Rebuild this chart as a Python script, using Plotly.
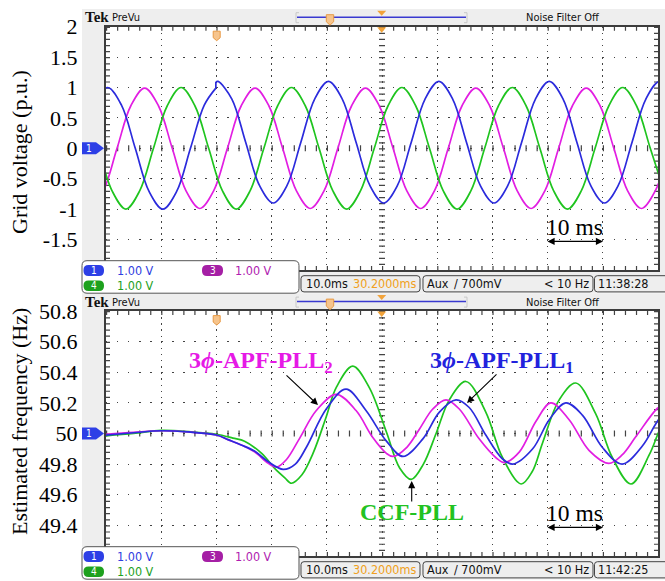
import plotly.graph_objects as go

W, H = 665, 581

# ---------------- data ----------------
# Top panel: three-phase grid voltage (p.u.) vs time (ms), 10 ms/div
t_ch3 = [-3, -0.5, 2, 4.5, 7, 9.5, 12, 14.5, 17, 19.5, 22, 24.5, 27, 29.5, 32, 34.5, 37, 39.5,
         42, 44.5, 47, 49.5, 52, 54.5, 57, 59.5, 62, 64.5, 67, 69.5, 72, 74.5, 77, 79.5, 82,
         84.5, 87, 89.5, 92, 94.5, 97, 99.5, 102]
v_ch3 = [-0.99, -0.7, 0, 0.7, 0.99, 0.7, 0, -0.7, -0.99, -0.7, 0, 0.7, 0.99, 0.7, 0, -0.7,
         -0.99, -0.7, 0, 0.7, 0.99, 0.7, 0, -0.7, -0.99, -0.7, 0, 0.7, 0.99, 0.7, 0, -0.7,
         -0.99, -0.7, 0, 0.7, 0.99, 0.7, 0, -0.7, -0.99, -0.7, 0]

t_ch4 = [-3.9, -1.4, 1.1, 3.6, 6.1, 8.6, 11.1, 13.6, 16.1, 18.6, 21.1, 23.6, 26.1, 28.6, 31.1,
         33.6, 36.1, 38.6, 41.1, 43.6, 46.1, 48.6, 51.1, 53.6, 56.1, 58.6, 61.1, 63.6, 66.1,
         68.6, 71.1, 73.6, 76.1, 78.6, 81.1, 83.6, 86.1, 88.6, 91.1, 93.6, 96.1, 98.6, 101.1]
v_ch4 = [0.7, 0, -0.7, -1, -0.7, 0, 0.7, 1, 0.7, 0, -0.7, -1, -0.7, 0, 0.7, 1,
         0.7, 0, -0.7, -1, -0.7, 0, 0.7, 1, 0.7, 0, -0.7, -1, -0.7, 0, 0.7, 1,
         0.7, 0, -0.7, -1, -0.7, 0, 0.7, 1, 0.7, 0, -0.7]

t_ch1_pre = [-4.7, -2.2, 0.3, 2.8, 5.3, 7.8, 10.3, 12.8, 15.3, 17.8, 19.9]
v_ch1_pre = [0, 0.71, 1, 0.71, 0, -0.71, -1, -0.71, 0, 0.71, 0.99]
t_ch1_post = [19.9, 20.3, 22.8, 25.3, 27.8, 30.3, 32.8, 35.3, 37.8, 40.3, 42.8, 45.3, 47.8,
              50.3, 52.8, 55.3, 57.8, 60.3, 62.8, 65.3, 67.8, 70.3, 72.8, 75.3, 77.8, 80.3,
              82.8, 85.3, 87.8, 90.3, 92.8, 95.3, 97.8, 100.3, 102.8]
v_ch1_post = [1.09, 1.1, 0.81, 0.1, -0.61, -0.9, -0.61, 0.1, 0.81, 1.1, 0.81, 0.1, -0.61,
              -0.9, -0.61, 0.1, 0.81, 1.1, 0.81, 0.1, -0.61, -0.9, -0.61, 0.1, 0.81, 1.1,
              0.81, 0.1, -0.61, -0.9, -0.61, 0.1, 0.81, 1.1, 0.81]

# Bottom panel: estimated frequency (Hz) vs time (ms)
t_pll2 = [0, 5, 10, 15, 20, 22.1, 24.5, 26.9, 29.4, 30.9, 32.7, 35.1, 38.1, 41.7, 45.3, 48.3,
          50.8, 52.0, 54.5, 56.8, 59.2, 61.6, 64.0, 67.6, 70.7, 72.2, 74.9, 77.9, 80.6, 83.9,
          87.5, 91.1, 93.5, 96.0, 99.9, 101.5]
f_pll2 = [49.995, 50.008, 50.018, 50.01, 49.99, 49.96, 49.925, 49.88, 49.805, 49.78, 49.83,
          49.97, 50.15, 50.256, 50.15, 49.975, 49.87, 49.85, 49.91, 50.03, 50.16, 50.22, 50.16,
          49.965, 49.84, 49.81, 49.88, 50.08, 50.2, 50.09, 49.89, 49.805, 49.86, 49.98,
          50.165, 50.2]

t_pll1 = [0, 5, 10, 15, 20, 22.1, 24.5, 26.9, 29.4, 32.1, 34.3, 36.3, 39.9, 43.5, 47.1, 50.8,
          53.8, 57.4, 60.4, 63.4, 65.8, 68.8, 71.8, 73.7, 77.3, 80.3, 83.3, 86.3, 89.9, 93.5,
          97.2, 99.9, 102]
f_pll1 = [49.99, 50.005, 50.018, 50.01, 49.99, 49.96, 49.925, 49.885, 49.815, 49.765, 49.8,
          49.91, 50.16, 50.29, 50.15, 49.95, 49.85, 49.965, 50.14, 50.22, 50.17, 49.99, 49.835,
          49.80, 49.9, 50.09, 50.2, 50.12, 49.91, 49.80, 49.92, 50.08, 50.17]

t_ccf = [0, 5, 10, 15, 20, 23, 25.1, 28.2, 30.6, 32.4, 33.6, 35.5, 37.5, 39.9, 41.7, 44.7,
         47.7, 50.8, 53.2, 55.3, 57.5, 59.8, 62.2, 65.2, 68.8, 71.8, 75.2, 77.2, 79.1, 82.1,
         85.1, 88.7, 91.7, 95.1, 98.4, 99.9, 102]
f_ccf = [49.985, 50.0, 50.02, 50.012, 49.995, 49.97, 49.95, 49.87, 49.77, 49.71, 49.675,
         49.73, 49.87, 50.11, 50.3, 50.44, 50.3, 50.01, 49.775, 49.70, 49.8, 50.0, 50.22,
         50.34, 50.14, 49.845, 49.67, 49.75, 49.94, 50.22, 50.33, 50.13, 49.845, 49.67,
         49.86, 49.99, 50.18]

v_tickvals = [-1.5, -1, -0.5, 0, 0.5, 1, 1.5, 2]
v_ticktext = ["-1.5", "-1", "-0.5", "0", "0.5", "1", "1.5", "2"]
f_tickvals = [49.4, 49.6, 49.8, 50.0, 50.2, 50.4, 50.6, 50.8]
f_ticktext = ["49.4", "49.6", "49.8", "50", "50.2", "50.4", "50.6", "50.8"]
t_gridvals = [10, 20, 30, 40, 50, 60, 70, 80, 90]

# ---------------- styling ----------------
BLUE, MAG, GRN = "#2b2bdc", "#e21ee2", "#1fc41f"
SERIF = "Liberation Serif, Times New Roman, serif"
NARROW = "Liberation Sans Narrow, Arial Narrow, DejaVu Sans Condensed, Liberation Sans, sans-serif"
GX0, GX1 = 106.0, 658.0
PANELS = [(26.7, 269.9), (311.1, 555.9)]


def X(p):
    return p / W


def Y(p):
    return 1 - p / H


shapes, anns = [], []


def rect(x0, y0, x1, y1, fill, lc=None, lw=0, layer="above"):
    shapes.append(dict(type="rect", xref="paper", yref="paper", x0=X(x0), x1=X(x1),
                       y0=Y(y1), y1=Y(y0), fillcolor=fill,
                       line=dict(color=lc or fill, width=lw), layer=layer))


def seg(x0, y0, x1, y1, color, w, dash="solid", layer="above"):
    shapes.append(dict(type="line", xref="paper", yref="paper", x0=X(x0), y0=Y(y0),
                       x1=X(x1), y1=Y(y1), line=dict(color=color, width=w, dash=dash),
                       layer=layer))


def poly(pts, fill, lc=None, lw=0, layer="above"):
    d = "M " + " L ".join(f"{X(a):.5f},{Y(b):.5f}" for a, b in pts) + " Z"
    shapes.append(dict(type="path", xref="paper", yref="paper", path=d, fillcolor=fill,
                       line=dict(color=lc or fill, width=lw), layer=layer))


def rrect(x0, y0, x1, y1, r, fill, lc, lw, layer="above"):
    P = lambda a, b: f"{X(a):.5f},{Y(b):.5f}"
    d = (f"M {P(x0 + r, y0)} L {P(x1 - r, y0)} Q {P(x1, y0)} {P(x1, y0 + r)} "
         f"L {P(x1, y1 - r)} Q {P(x1, y1)} {P(x1 - r, y1)} L {P(x0 + r, y1)} "
         f"Q {P(x0, y1)} {P(x0, y1 - r)} L {P(x0, y0 + r)} Q {P(x0, y0)} {P(x0 + r, y0)} Z")
    shapes.append(dict(type="path", xref="paper", yref="paper", path=d, fillcolor=fill,
                       line=dict(color=lc, width=lw), layer=layer))


def text(x, y, s, size, color="#000", family=SERIF, xanchor="center", angle=0):
    anns.append(dict(x=X(x), y=Y(y), xref="paper", yref="paper", text=s, showarrow=False,
                     font=dict(size=size, color=color, family=family), xanchor=xanchor,
                     yanchor="middle", textangle=angle))


def arrow(hx, hy, tx, ty, both=False, w=1.1):
    anns.append(dict(x=X(hx), y=Y(hy), xref="paper", yref="paper", text="", showarrow=True,
                     ax=tx - hx, ay=ty - hy, axref="pixel", ayref="pixel", arrowhead=2,
                     arrowsize=1.3, arrowwidth=w, arrowcolor="#000",
                     arrowside="end+start" if both else "end", startarrowhead=2,
                     startarrowsize=1.3))


ORANGE = "#f2a33a"
for i, (gy0, gy1) in enumerate(PANELS):
    cy = (gy0 + gy1) / 2
    cx = (GX0 + GX1) / 2
    dxm = (GX1 - GX0) / 50
    dym = (gy1 - gy0) / 40
    # screen background + white graticule area
    rect(82, gy0 - 17.7, 665, gy1 + 23.5, "#eeeeee", layer="below")
    rect(GX0, gy0, GX1, gy1, "#ffffff", layer="below")
    # graticule tick rows
    dh = f"1.2px,{dxm - 1.2:.2f}px"
    dv = f"1.2px,{dym - 1.2:.2f}px"
    seg(GX0, gy0 + 2, GX1, gy0 + 2, "#444", 4, dh, "below")
    seg(GX0, gy1 - 2, GX1, gy1 - 2, "#444", 4, dh, "below")
    seg(GX0 + 2, gy0, GX0 + 2, gy1, "#444", 4, dv, "below")
    seg(GX1 - 2, gy0, GX1 - 2, gy1, "#444", 4, dv, "below")
    seg(GX0, cy, GX1, cy, "#444", 6, dh, "below")
    seg(cx, gy0, cx, gy1, "#444", 6, dv, "below")
    # header
    text(83, gy0 - 9.5, "<b>Tek</b>", 15, "#111", SERIF, "left")
    text(110, gy0 - 9, "PreVu", 11, "#111", NARROW, "left")
    seg(297, gy0 - 9.5, 466, gy0 - 9.5, "#3a3ad0", 1.5)
    for bx, sgn in ((296, 1), (467, -1)):
        seg(bx, gy0 - 14, bx, gy0 - 4, "#c8c8c8", 1)
        seg(bx, gy0 - 14, bx + 3 * sgn, gy0 - 14, "#c8c8c8", 1)
        seg(bx, gy0 - 4, bx + 3 * sgn, gy0 - 4, "#c8c8c8", 1)
    poly([(377.2, gy0 - 16), (386.2, gy0 - 16), (381.7, gy0 - 11)], ORANGE)
    poly([(326.3, gy0 - 12), (333.7, gy0 - 12), (333.7, gy0 - 5), (330, gy0 - 1.5),
          (326.3, gy0 - 5)], "#f6c48c", "#e89a45", 1)
    text(563, gy0 - 9, "Noise Filter Off", 11, "#111", NARROW)
    # markers inside the graticule
    poly([(213.2, gy0 + 4.5), (220.2, gy0 + 4.5), (220.2, gy0 + 11), (216.7, gy0 + 14),
          (213.2, gy0 + 11)], "#f6c48c", "#e89a45", 1)
    poly([(377.2, gy0 + 0.5), (386.2, gy0 + 0.5), (381.7, gy0 + 6)], ORANGE)
    # channel-1 ground marker
    poly([(82, cy - 6), (96, cy - 6), (104, cy), (96, cy + 6), (82, cy + 6)], "#2d3fe6")
    text(89, cy, "1", 10, "#fff", NARROW)
    # footer readouts
    rrect(82, gy1 - 9.2, 299, gy1 + 23.3, 5, "#ffffff", "#555", 1)
    rrect(83.5, gy1 - 5, 104, gy1 + 6, 5, "#2d3fe6", "#2d3fe6", 0)
    text(93.7, gy1 + 0.5, "1", 10, "#fff", NARROW)
    rrect(202, gy1 - 5, 223, gy1 + 6, 5, "#a51fa5", "#a51fa5", 0)
    text(212.5, gy1 + 0.5, "3", 10, "#fff", NARROW)
    rrect(83.5, gy1 + 10.5, 104, gy1 + 21, 5, "#1ea11e", "#1ea11e", 0)
    text(93.7, gy1 + 15.8, "4", 10, "#fff", NARROW)
    text(115, gy1 + 0.5, "1.00 V", 12.5, "#3040e0", NARROW, "left")
    text(233, gy1 + 0.5, "1.00 V", 12.5, "#b01cb0", NARROW, "left")
    text(115, gy1 + 15.8, "1.00 V", 12.5, "#1ea11e", NARROW, "left")
    rrect(301, gy1 + 5.8, 420, gy1 + 22, 3, "#eeeeee", "#444", 1)
    rrect(423, gy1 + 5.8, 593, gy1 + 22, 3, "#eeeeee", "#444", 1)
    rrect(594.5, gy1 + 5.8, 672, gy1 + 22, 3, "#eeeeee", "#444", 1)
    text(304, gy1 + 14, "10.0ms", 12.5, "#111", NARROW, "left")
    text(418, gy1 + 14, "30.2000ms", 12.5, "#f0a020", NARROW, "right")
    text(425, gy1 + 14, "Aux", 12.5, "#111", NARROW, "left")
    text(452, gy1 + 14, "\u2215 700mV", 12.5, "#111", NARROW, "left")
    text(591, gy1 + 14, "< 10 Hz", 12.5, "#111", NARROW, "right")
    text(596, gy1 + 14, "11:38:28" if i == 0 else "11:42:25", 12.5, "#111", NARROW, "left")
    # 10 ms scale
    text(574, gy1 - 43, "10 ms", 23.5, "#000", SERIF)
    arrow(603, gy1 - 28.5, 546, gy1 - 28.5, both=True)

# axis titles
text(19, 152, "Grid voltage (p.u.)", 22, "#000", SERIF, angle=-90)
text(19, 422, "Estimated frequency (Hz)", 22, "#000", SERIF, angle=-90)

# curve labels
PHI = "\u03d5"
text(261, 362, f"<b>3<i>{PHI}</i>-APF-PLL<sub>2</sub></b>", 24, "#e619e6")
arrow(318, 405, 285, 374)
text(502, 362, f"<b>3<i>{PHI}</i>-APF-PLL<sub>1</sub></b>", 24, "#2222dd")
arrow(467, 403, 498, 373)
text(412, 512, "<b>CCF-PLL</b>", 24, "#22c222")
arrow(411.7, 481, 411.7, 503)

fig = go.Figure()
ln = lambda c: dict(color=c, width=1.7, shape="spline")
fig.add_trace(go.Scatter(x=t_ch3, y=v_ch3, mode="lines", line=ln(MAG), xaxis="x", yaxis="y"))
fig.add_trace(go.Scatter(x=t_ch4, y=v_ch4, mode="lines", line=ln(GRN), xaxis="x", yaxis="y"))
fig.add_trace(go.Scatter(x=t_ch1_pre, y=v_ch1_pre, mode="lines", line=ln(BLUE), xaxis="x", yaxis="y"))
fig.add_trace(go.Scatter(x=t_ch1_post, y=v_ch1_post, mode="lines", line=ln(BLUE), xaxis="x", yaxis="y"))
fig.add_trace(go.Scatter(x=[t_ch1_pre[-1], t_ch1_post[0]], y=[v_ch1_pre[-1], v_ch1_post[0]],
                         mode="lines", line=dict(color=BLUE, width=1.7), xaxis="x", yaxis="y"))
fig.add_trace(go.Scatter(x=t_ccf, y=f_ccf, mode="lines", line=ln(GRN), xaxis="x2", yaxis="y2"))
fig.add_trace(go.Scatter(x=t_pll2, y=f_pll2, mode="lines", line=ln(MAG), xaxis="x2", yaxis="y2"))
fig.add_trace(go.Scatter(x=t_pll1, y=f_pll1, mode="lines", line=ln(BLUE), xaxis="x2", yaxis="y2"))

xdom = [GX0 / W, GX1 / W]


def xax(anchor, gy0, gy1):
    dym = (gy1 - gy0) / 40
    return dict(domain=xdom, anchor=anchor, range=[0, 100], tickmode="array", tickvals=t_gridvals,
                showticklabels=False, ticks="", showgrid=True, gridcolor="#444", gridwidth=1.4,
                griddash=f"1.4px,{dym - 1.4:.2f}px", showline=True, linecolor="#3c3c3c",
                linewidth=2, mirror=True, zeroline=False, fixedrange=True, automargin=False)


def yax(anchor, gy0, gy1, rng, tv, tt):
    dxm = (GX1 - GX0) / 50
    return dict(domain=[Y(gy1), Y(gy0)], anchor=anchor, range=rng, tickmode="array",
                tickvals=tv, ticktext=tt, ticks="", showgrid=True, gridcolor="#444",
                gridwidth=1.4, griddash=f"1.4px,{dxm - 1.4:.2f}px", showline=True,
                linecolor="#3c3c3c", linewidth=2, mirror=True, zeroline=False,
                tickfont=dict(family=SERIF, size=22, color="#000"), ticklabelstandoff=22,
                fixedrange=True, automargin=False)


(g0a, g1a), (g0b, g1b) = PANELS
fig.update_layout(
    width=W, height=H, margin=dict(l=0, r=0, t=0, b=0, autoexpand=False), showlegend=False,
    autosize=False, paper_bgcolor="#ffffff", plot_bgcolor="rgba(0,0,0,0)", hovermode=False,
    xaxis=xax("y", g0a, g1a), yaxis=yax("x", g0a, g1a, [-2, 2], v_tickvals, v_ticktext),
    xaxis2=xax("y2", g0b, g1b),
    yaxis2=yax("x2", g0b, g1b, [49.2, 50.8], f_tickvals, f_ticktext),
    shapes=shapes, annotations=anns,
)
fig.write_html("out.html", config={"responsive": False, "displayModeBar": False},
               post_script="document.body.style.margin='0px';"
                           "document.body.style.overflow='hidden';")
